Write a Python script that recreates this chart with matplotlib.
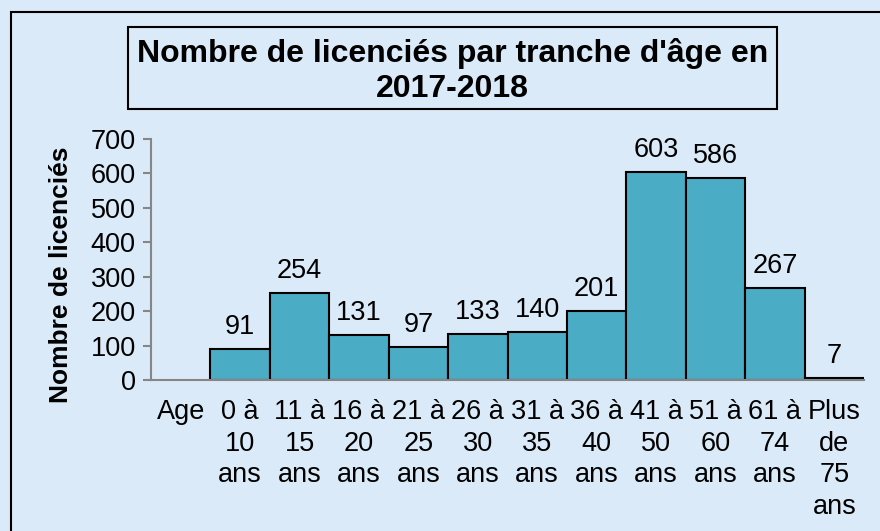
import matplotlib
matplotlib.use("Agg")
import matplotlib.pyplot as plt
from matplotlib.patches import Rectangle

categories = ["Age", "0 à\n10\nans", "11 à\n15\nans", "16 à\n20\nans", "21 à\n25\nans",
              "26 à\n30\nans", "31 à\n35\nans", "36 à\n40\nans", "41 à\n50\nans",
              "51 à\n60\nans", "61 à\n74\nans", "Plus\nde\n75\nans"]
values = [None, 91, 254, 131, 97, 133, 140, 201, 603, 586, 267, 7]
yticks = [0, 100, 200, 300, 400, 500, 600, 700]

plt.rcParams['font.family'] = ['Liberation Sans', 'DejaVu Sans']
bg = '#DBEAF8'
fig = plt.figure(figsize=(8.8, 5.31), dpi=100, facecolor=bg)
ax = fig.add_axes([151/880, 1-380/531, (864-151)/880, (380-139)/531])
ax.set_facecolor('none')

xs = list(range(len(categories)))
for x, v in zip(xs, values):
    if v is None:
        continue
    ax.bar(x, v, width=1.0, color='#4BACC6', edgecolor='black', linewidth=1.5, zorder=2)
    ax.text(x, v + 26, str(v), ha='center', va='bottom', fontsize=19.5, color='black')

ax.set_xlim(-0.5, len(categories) - 0.5)
ax.set_ylim(0, 700)
ax.set_yticks(yticks)
ax.set_xticks(xs)
ax.set_xticklabels(categories, fontsize=19.5, linespacing=1.27, va='top')
ax.tick_params(axis='x', length=0, pad=14)
ax.tick_params(axis='y', length=6, width=1.5, color='#868686', labelsize=19.5, pad=5)
for s in ['top', 'right']:
    ax.spines[s].set_visible(False)
for s in ['left', 'bottom']:
    ax.spines[s].set_color('#868686')
    ax.spines[s].set_linewidth(1.5)
ax.set_ylabel('Nombre de licenciés', fontsize=19, fontweight='bold', va='center')
ax.yaxis.set_label_coords((61-151)/713, (380-275)/241)

# outer border
fig.patches.append(Rectangle((11/880, -0.1), 1.0, 1 - 12/531 + 0.1, transform=fig.transFigure,
                             fill=False, edgecolor='black', linewidth=1.5))
# title box
fig.patches.append(Rectangle((128/880, 1-109/531), (777-128)/880, (109-27)/531,
                             transform=fig.transFigure, facecolor=bg, edgecolor='black', linewidth=1.5))
fig.text((128+777)/2/880, 1-71/531, "Nombre de licenciés par tranche d'âge en\n2017-2018",
         ha='center', va='center', fontsize=23, fontweight='bold', linespacing=1.2)

fig.savefig('out.png', dpi=100, facecolor=bg)
